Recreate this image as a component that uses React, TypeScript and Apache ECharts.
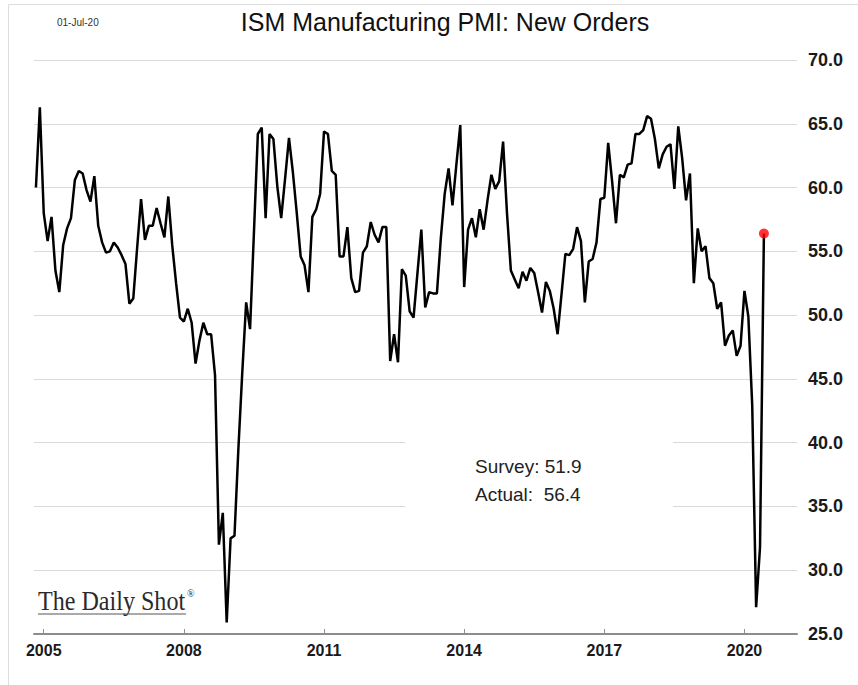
import React, { useEffect, useRef } from "react";
import * as echarts from "echarts";

// ISM Manufacturing PMI: New Orders, monthly, Nov 2004 – Jun 2020
const START_YEAR = 2004;
const START_MONTH = 11;
const AXIS_END_YEAR = 2021;
const AXIS_END_MONTH = 2;

const newOrders = [
  60.0, 66.3, // 2004 Nov-Dec
  58.0, 55.8, 57.7, 53.5, 51.8, 55.5, 56.8, 57.6, 60.6, 61.3, 61.1, 59.8, // 2005
  58.9, 60.9, 57.0, 55.7, 54.9, 55.0, 55.7, 55.3, 54.7, 54.0, 50.9, 51.3, // 2006
  55.3, 59.1, 55.9, 57.0, 57.0, 58.4, 57.2, 56.1, 59.3, 55.5, 52.5, 49.8, // 2007
  49.5, 50.5, 49.4, 46.2, 48.0, 49.4, 48.5, 48.5, 45.3, 32.0, 34.5, 25.9, // 2008
  32.5, 32.7, 39.5, 45.5, 51.0, 48.9, 56.5, 64.2, 64.7, 57.6, 64.2, 63.8, // 2009
  60.1, 57.6, 60.7, 63.9, 61.2, 58.0, 54.6, 53.9, 51.8, 57.7, 58.3, 59.5, // 2010
  64.4, 64.2, 61.3, 61.0, 54.6, 54.6, 56.9, 52.9, 51.8, 51.9, 54.9, 55.4, // 2011
  57.3, 56.3, 55.7, 56.9, 56.9, 46.4, 48.5, 46.3, 53.6, 53.1, 50.3, 49.8, // 2012
  53.3, 56.7, 50.6, 51.8, 51.7, 51.7, 56.0, 59.5, 61.5, 58.6, 61.8, 64.9, // 2013
  52.2, 56.7, 57.6, 56.1, 58.3, 56.7, 59.0, 61.0, 59.9, 60.5, 63.6, 58.0, // 2014
  53.5, 52.8, 52.1, 53.4, 52.7, 53.7, 53.3, 51.8, 50.2, 52.6, 51.9, 50.5, // 2015
  48.5, 51.6, 54.8, 54.7, 55.2, 56.9, 55.8, 51.0, 54.2, 54.4, 55.7, 59.1, // 2016
  59.2, 63.5, 60.5, 57.2, 61.0, 60.8, 61.8, 61.9, 64.2, 64.2, 64.5, 65.6, // 2017
  65.4, 63.8, 61.5, 62.6, 63.2, 63.4, 59.9, 64.8, 62.3, 59.0, 61.1, 52.5, // 2018
  56.8, 55.0, 55.4, 52.9, 52.5, 50.5, 51.0, 47.6, 48.4, 48.8, 46.8, 47.6, // 2019
  51.9, 49.9, 42.9, 27.1, 31.8, 56.4, // 2020 Jan-Jun
];

const yearTickLabels = ["2005", "2008", "2011", "2014", "2017", "2020"];
const surveyValue = 51.9;
const actualValue = 56.4;

function buildMonths(): string[] {
  const out: string[] = [];
  let y = START_YEAR;
  let m = START_MONTH;
  while (y < AXIS_END_YEAR || (y === AXIS_END_YEAR && m <= AXIS_END_MONTH)) {
    out.push(`${y}-${m < 10 ? "0" + m : m}`);
    m += 1;
    if (m > 12) {
      m = 1;
      y += 1;
    }
  }
  return out;
}

const SANS = "Liberation Sans, Arial, sans-serif";
const SERIF = "Liberation Serif, DejaVu Serif, serif";

export default function App() {
  const ref = useRef<HTMLDivElement>(null);

  useEffect(() => {
    if (!ref.current) return;
    const chart = echarts.init(ref.current, undefined, { renderer: "svg" });
    const months = buildMonths();
    const lastIdx = newOrders.length - 1;
    const isYearTick = (_i: number, v: string) =>
      v.endsWith("-01") && yearTickLabels.indexOf(v.slice(0, 4)) >= 0;

    chart.setOption({
      animation: false,
      backgroundColor: "#ffffff",
      grid: { left: 34, right: 61, top: 60, bottom: 51, containLabel: false },
      xAxis: {
        type: "category",
        data: months,
        boundaryGap: true,
        axisLine: { show: true, lineStyle: { color: "#8c8c8c", width: 2 } },
        axisTick: {
          show: true,
          alignWithLabel: true,
          inside: true,
          length: 5,
          interval: isYearTick,
          lineStyle: { color: "#8c8c8c", width: 1 },
        },
        axisLabel: {
          interval: isYearTick,
          formatter: (v: string) => v.slice(0, 4),
          color: "#1a1a1a",
          fontFamily: SANS,
          fontWeight: "bold",
          fontSize: 16,
          margin: 8,
        },
        splitLine: { show: false },
      },
      yAxis: {
        type: "value",
        position: "right",
        min: 25,
        max: 70,
        interval: 5,
        axisLine: { show: false },
        axisTick: { show: false },
        axisLabel: {
          formatter: (v: number) => v.toFixed(1),
          color: "#1a1a1a",
          fontFamily: SANS,
          fontWeight: "bold",
          fontSize: 18,
          margin: 11,
        },
        splitLine: { show: true, lineStyle: { color: "#d9d9d9", width: 1 } },
      },
      series: [
        {
          type: "line",
          data: newOrders,
          showSymbol: false,
          symbol: "none",
          lineStyle: { color: "#000000", width: 2.5 },
          z: 3,
        },
        {
          type: "scatter",
          data: [[lastIdx, newOrders[lastIdx]]],
          symbol: "circle",
          symbolSize: 10,
          itemStyle: { color: "#ff0000" },
          z: 4,
        },
      ],
      graphic: [
        {
          type: "rect",
          z: 0,
          shape: { x: 8.5, y: 4.5, width: 900, height: 720 },
          style: { fill: "none", stroke: "#dddddd", lineWidth: 1 },
        },
        {
          type: "rect",
          z: 1,
          shape: { x: 405, y: 395, width: 268, height: 160 },
          style: { fill: "#ffffff" },
        },
        {
          type: "text",
          z: 5,
          x: 57,
          y: 22,
          style: {
            text: "01-Jul-20",
            fontSize: 10,
            fontFamily: SANS,
            fill: "#333333",
            textVerticalAlign: "middle",
          },
        },
        {
          type: "text",
          z: 5,
          x: 445,
          y: 22,
          style: {
            text: "ISM Manufacturing PMI: New Orders",
            fontSize: 25,
            fontFamily: SANS,
            fill: "#111111",
            textAlign: "center",
            textVerticalAlign: "middle",
          },
        },
        {
          type: "text",
          z: 5,
          x: 475,
          y: 466,
          style: {
            text: "Survey: " + surveyValue.toFixed(1),
            fontSize: 19,
            fontFamily: SANS,
            fill: "#222222",
            textVerticalAlign: "middle",
          },
        },
        {
          type: "text",
          z: 5,
          x: 475,
          y: 494,
          style: {
            text: "Actual:  " + actualValue.toFixed(1),
            fontSize: 19,
            fontFamily: SANS,
            fill: "#222222",
            textVerticalAlign: "middle",
          },
        },
        {
          type: "text",
          z: 5,
          x: 38,
          y: 601,
          scaleX: 0.86,
          style: {
            text: "The Daily Shot",
            fontSize: 28,
            fontFamily: SERIF,
            fill: "#2a2a2a",
            textVerticalAlign: "middle",
          },
        },
        {
          type: "text",
          z: 5,
          x: 187,
          y: 593,
          style: {
            text: "®",
            fontSize: 10,
            fontFamily: SERIF,
            fill: "#2a2a2a",
            textVerticalAlign: "middle",
          },
        },
        {
          type: "line",
          z: 5,
          shape: { x1: 38, y1: 614, x2: 186, y2: 614 },
          style: { stroke: "#555555", lineWidth: 1 },
        },
      ],
    });

    return () => chart.dispose();
  }, []);

  return (
    <div
      ref={ref}
      style={{ position: "fixed", left: 0, top: 0, width: 858, height: 685, background: "#fff" }}
    />
  );
}
